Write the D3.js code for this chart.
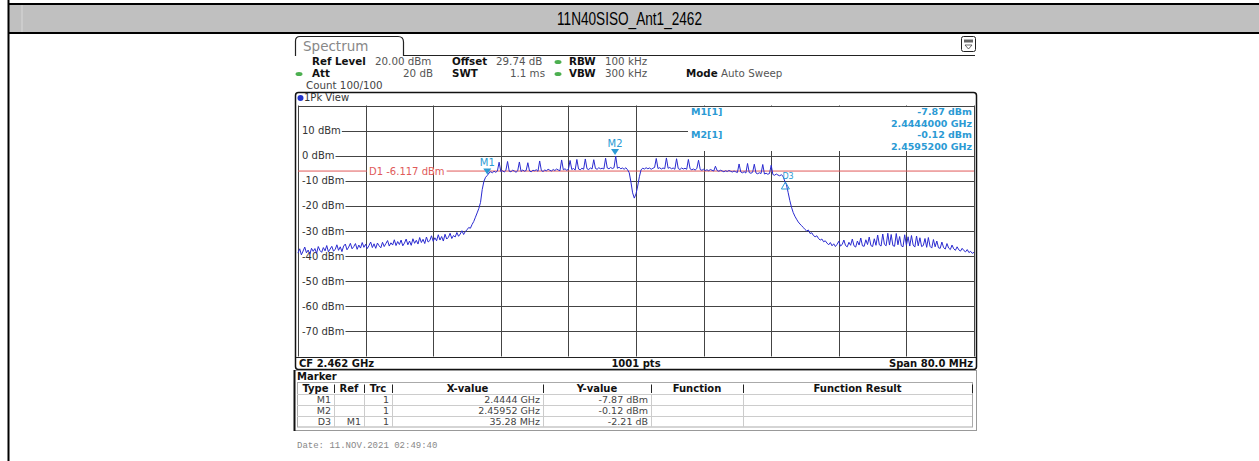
<!DOCTYPE html>
<html lang="en">

<head>
  <meta charset="UTF-8">
  <title>11N40SISO_Ant1_2462</title>
  <script src="https://d3js.org/d3.v7.min.js"></script>
  <style>
    body { margin: 0; background: #fff; }
    text { font-family: "DejaVu Sans", Verdana, sans-serif; }
  </style>
</head>

<body>
  <script>

    // trace: 401 points, 0.2 MHz apart, from 2.422 GHz
    var startGHz = 2.422;
    var stepGHz = 0.0002;
    var levels = [
      -38.8, -37.1, -39.5, -38.0, -36.4, -38.7, -37.6, -39.2, -36.9, -38.1,
      -37.0, -38.9, -36.2, -37.8, -38.5, -36.6, -37.9, -35.8, -38.3, -37.2,
      -36.1, -38.0, -37.4, -35.5, -37.7, -36.3, -38.2, -36.0, -35.2, -37.5,
      -36.4, -34.9, -37.1, -36.2, -35.0, -37.3, -35.6, -36.8, -34.6, -36.5,
      -35.3, -37.0, -35.8, -34.4, -36.6, -35.1, -36.9, -34.8, -35.9, -36.7,
      -34.5, -36.2, -35.0, -33.8, -36.0, -34.7, -35.6, -33.5, -35.8, -34.2,
      -35.4, -33.6, -35.9, -34.8, -33.2, -35.5, -34.0, -35.7, -33.1, -34.9,
      -33.7, -35.2, -32.6, -34.6, -33.3, -35.0, -32.4, -34.4, -33.8, -31.9,
      -34.1, -32.7, -33.9, -31.5, -33.6, -32.2, -34.0, -31.3, -33.2, -32.5,
      -30.9, -33.0, -31.8, -32.4, -30.6, -32.1, -31.2, -29.9, -31.4, -30.2,
      -29.5, -28.6, -28.9, -27.4, -26.2, -24.5, -22.8, -21.0, -18.6, -13.5,
      -10.2, -8.6, -7.87, -6.9, -6.4, -6.8, -6.2, -6.6, -6.1, -2.6,
      -6.3, -6.0, -6.5, -5.9, -2.3, -6.2, -6.4, -5.8, -6.1, -6.6,
      -6.0, -2.5, -6.3, -5.7, -6.2, -5.9, -2.8, -6.1, -6.4, -5.8,
      -6.0, -5.6, -6.2, -2.1, -5.9, -6.3, -5.7, -6.0, -5.4, -5.8,
      -6.1, -5.5, -5.9, -5.3, -5.7, -6.0, -1.7, -5.6, -5.2, -5.8,
      -5.4, -1.9, -5.5, -5.1, -5.7, -1.5, -5.3, -5.6, -5.0, -5.4,
      -1.3, -5.2, -5.5, -4.9, -5.3, -1.6, -5.1, -5.4, -4.8, -5.2,
      -5.0, -5.3, -1.0, -4.9, -5.2, -4.7, -5.1, -4.8, -0.12, -5.0,
      -4.6, -5.2, -4.9, -5.4, -4.8, -5.6, -6.8, -10.5, -14.8, -16.9,
      -15.2, -12.1, -8.4, -5.6, -5.0, -5.3, -4.8, -5.2, -4.9, -5.4,
      -5.0, -4.7, -1.1, -5.1, -4.8, -5.3, -4.9, -5.2, -0.9, -5.0,
      -4.7, -5.2, -4.9, -5.4, -1.2, -5.1, -5.5, -4.9, -5.3, -5.0,
      -5.4, -1.5, -5.2, -5.6, -5.3, -5.7, -5.1, -1.8, -5.5, -5.8,
      -5.4, -5.9, -5.6, -6.0, -5.5, -5.8, -6.1, -4.2, -5.9, -6.2,
      -5.8, -6.1, -6.4, -6.0, -6.3, -5.9, -6.2, -6.5, -6.1, -6.4,
      -6.7, -3.3, -6.5, -6.8, -6.4, -6.9, -3.1, -6.7, -7.0, -6.6,
      -3.4, -6.9, -7.2, -6.8, -7.1, -3.5, -7.3, -7.0, -7.4, -7.1,
      -3.8, -7.5, -7.8, -7.3, -7.7, -8.0, -7.6, -8.2, -10.08, -11.5,
      -14.6, -17.8, -20.5, -22.6, -24.1, -25.3, -26.4, -27.2, -27.9, -28.6,
      -29.4, -30.0, -29.6, -31.0, -30.7, -31.8, -32.3, -31.9, -33.0, -33.6,
      -33.2, -34.3, -33.9, -34.8, -35.5, -34.6, -35.9, -35.1, -36.2, -35.3,
      -34.1, -36.0, -35.4, -33.6, -35.8, -36.3, -34.5, -35.7, -33.2, -35.9,
      -36.4, -34.0, -35.6, -32.8, -35.9, -36.1, -33.5, -35.4, -32.4, -35.8,
      -36.2, -33.1, -35.7, -31.6, -35.5, -36.0, -31.2, -35.3, -35.9, -30.9,
      -35.6, -31.4, -35.8, -36.1, -31.0, -35.5, -32.2, -35.9, -36.3, -31.5,
      -35.7, -32.3, -36.0, -31.8, -35.6, -36.4, -32.0, -35.9, -32.7, -36.2,
      -35.8, -33.0, -36.5, -32.6, -36.1, -36.8, -33.4, -36.3, -34.0, -36.7,
      -36.9, -34.4, -36.6, -37.2, -35.0, -36.8, -37.4, -35.6, -37.1, -37.7,
      -36.3, -37.5, -38.0, -36.9, -37.8, -38.3, -37.4, -38.6, -38.1, -38.9,
      -38.5
    ];

    var yTicks = [20, 10, 0, -10, -20, -30, -40, -50, -60, -70, -80];
    var yLabels = ["10 dBm", "0 dBm", "-10 dBm", "-20 dBm", "-30 dBm", "-40 dBm", "-50 dBm", "-60 dBm", "-70 dBm"];
    var yLabelValues = [10, 0, -10, -20, -30, -40, -50, -60, -70];

    var displayLine = -6.117;

    var markerNames = ["M1", "M2", "D3"];
    var markerFreqs = [2.4444, 2.45952, 2.47968];
    var markerLevels = [-7.87, -0.12, -10.08];

    var tableHead = ["Type", "Ref", "Trc", "X-value", "Y-value", "Function", "Function Result"];
    var tableRows = [
      ["M1", "", "1", "2.4444 GHz", "-7.87 dBm", "", ""],
      ["M2", "", "1", "2.45952 GHz", "-0.12 dBm", "", ""],
      ["D3", "M1", "1", "35.28 MHz", "-2.21 dB", "", ""]
    ];

    var W = 1259, H = 461;
    var blue = "#2a2ad0";
    var cyan = "#2b9ad4";
    var red = "#e05a5a";

    var svg = d3.select("body").append("svg")
      .attr("width", W)
      .attr("height", H);

    // ---- page title band ----
    svg.append("rect").attr("x", 8).attr("y", 4).attr("width", W - 8).attr("height", 29)
      .attr("fill", "#c0c0c0");
    svg.append("line").attr("x1", 22).attr("x2", 22).attr("y1", 5).attr("y2", 32)
      .attr("stroke", "#d8d8d8");
    svg.append("line").attr("x1", 8).attr("x2", W).attr("y1", 4).attr("y2", 4)
      .attr("stroke", "#000").attr("stroke-width", 2);
    svg.append("line").attr("x1", 8).attr("x2", W).attr("y1", 33).attr("y2", 33)
      .attr("stroke", "#000").attr("stroke-width", 2);
    svg.append("line").attr("x1", 8.5).attr("x2", 8.5).attr("y1", 0).attr("y2", H)
      .attr("stroke", "#000").attr("stroke-width", 2);
    svg.append("text")
      .attr("x", 629.5).attr("y", 25)
      .attr("text-anchor", "middle")
      .attr("textLength", 145).attr("lengthAdjust", "spacingAndGlyphs")
      .style("font-family", "'Liberation Sans Narrow', 'Arial Narrow', 'Liberation Sans', sans-serif")
      .style("font-size", "18px")
      .text("11N40SISO_Ant1_2462");

    // ---- scales ----
    var x = d3.scaleLinear().domain([2.422, 2.502]).range([298, 974]);
    var y = d3.scaleLinear().domain([-80, 20]).range([356.5, 105.5]);

    function txt(g, xx, yy, s, bold, anchor, col) {
      return g.append("text").attr("x", xx).attr("y", yy)
        .attr("text-anchor", anchor || "start")
        .style("font-weight", bold ? "bold" : "normal")
        .style("fill", col || (bold ? "#111" : "#555"))
        .text(s);
    }

    // ---- instrument window ----
    var win = svg.append("g");
    // tab
    win.append("path")
      .attr("d", "M295.5,56 L295.5,41 Q295.5,36.5 300,36.5 L398,36.5 Q403.5,36.5 403.5,42 L403.5,55.5 L975,55.5")
      .attr("fill", "none").attr("stroke", "#222").attr("stroke-width", 1.2);
    win.append("text").attr("x", 303).attr("y", 51)
      .style("font-size", "13.5px").style("fill", "#888")
      .text("Spectrum");
    // icon at top right
    win.append("rect").attr("x", 961.5).attr("y", 36.5).attr("width", 14).attr("height", 15).attr("rx", 2)
      .attr("fill", "#fff").attr("stroke", "#222");
    win.append("rect").attr("x", 964).attr("y", 39.5).attr("width", 9).attr("height", 3)
      .attr("fill", "#666");
    win.append("path").attr("d", "M965,45 L972,45 L968.5,49 Z")
      .attr("fill", "none").attr("stroke", "#444").attr("stroke-width", 0.8);

    // settings lines
    var setting = win.append("g").style("font-size", "10.3px");
    txt(setting, 312, 65, "Ref Level", true);
    txt(setting, 375, 65, "20.00 dBm");
    txt(setting, 452, 65, "Offset", true);
    txt(setting, 496, 65, "29.74 dB");
    txt(setting, 569, 65, "RBW", true);
    txt(setting, 605, 65, "100 kHz");
    txt(setting, 312, 77, "Att", true);
    txt(setting, 433, 77, "20 dB", false, "end");
    txt(setting, 452, 77, "SWT", true);
    txt(setting, 545, 77, "1.1 ms", false, "end");
    txt(setting, 569, 77, "VBW", true);
    txt(setting, 605, 77, "300 kHz");
    txt(setting, 686, 77, "Mode", true);
    txt(setting, 721, 77, "Auto Sweep");
    txt(setting, 306, 89, "Count 100/100", false, "start", "#444");
    [[558, 62], [299, 74], [558, 74]].forEach(function (p) {
      win.append("ellipse").attr("cx", p[0]).attr("cy", p[1]).attr("rx", 3.5).attr("ry", 2)
        .attr("fill", "#4caf50");
    });

    // diagram frame
    win.append("rect").attr("x", 295.5).attr("y", 92.5).attr("width", 681).attr("height", 277).attr("rx", 3)
      .attr("fill", "#fff").attr("stroke", "#111").attr("stroke-width", 1.5);
    win.append("circle").attr("cx", 300.5).attr("cy", 98).attr("r", 3).attr("fill", "#2233cc");
    txt(win, 304, 101, "1Pk View", false, "start", "#333").style("font-size", "10px");

    // ---- grid ----
    var grid = svg.append("g").attr("stroke", "#444").attr("stroke-width", 1);
    grid.selectAll("line.h").data(yTicks).enter().append("line")
      .attr("x1", x(2.422)).attr("x2", x(2.502))
      .attr("y1", function (d) { return Math.round(y(d)) + 0.5; })
      .attr("y2", function (d) { return Math.round(y(d)) + 0.5; });
    grid.selectAll("line.v").data(d3.range(11)).enter().append("line")
      .attr("x1", function (d) { return Math.round(x(2.422 + d * 0.008)) + 0.5; })
      .attr("x2", function (d) { return Math.round(x(2.422 + d * 0.008)) + 0.5; })
      .attr("y1", y(20)).attr("y2", y(-80));

    // marker info box hides the upper right of the grid
    svg.append("rect").attr("x", 688).attr("y", 107).attr("width", 286).attr("height", 44)
      .attr("fill", "#fff");
    var info = svg.append("g").style("font-size", "9.5px");
    txt(info, 691, 115, "M1[1]", true, "start", cyan);
    txt(info, 972, 115, "-7.87 dBm", true, "end", cyan);
    txt(info, 972, 126.5, "2.4444000 GHz", true, "end", cyan);
    txt(info, 691, 138, "M2[1]", true, "start", cyan);
    txt(info, 972, 138, "-0.12 dBm", true, "end", cyan);
    txt(info, 972, 149.5, "2.4595200 GHz", true, "end", cyan);

    // y labels with white backing
    var lab = svg.append("g").style("font-size", "10px");
    yLabelValues.forEach(function (v, i) {
      var t = lab.append("text").attr("x", 302).attr("y", y(v) + 3.5)
        .style("fill", "#333").text(yLabels[i]);
      var bb = t.node().getBBox();
      lab.insert("rect", "text").attr("x", 299).attr("y", y(v) - 3)
        .attr("width", bb.x + bb.width - 299 + 1).attr("height", 6).attr("fill", "#fff");
    });

    // display line D1
    var dl = svg.append("g");
    dl.append("line").attr("x1", x(2.422)).attr("x2", x(2.502))
      .attr("y1", y(displayLine)).attr("y2", y(displayLine))
      .attr("stroke", red).attr("stroke-width", 1);
    var d1 = dl.append("text").attr("x", 369).attr("y", y(displayLine) + 3.5)
      .style("font-size", "10px").style("fill", red)
      .text("D1  " + displayLine.toFixed(3) + " dBm");
    var d1b = d1.node().getBBox();
    dl.insert("rect", "text").attr("x", d1b.x - 2).attr("y", y(displayLine) - 2)
      .attr("width", d1b.width + 4).attr("height", 4).attr("fill", "#fff");

    // ---- trace ----
    var line = d3.line()
      .x(function (d, i) { return x(startGHz + i * stepGHz); })
      .y(function (d) { return y(d); });
    svg.append("path").datum(levels)
      .attr("fill", "none").attr("stroke", blue).attr("stroke-width", 1)
      .attr("d", line);

    // ---- markers ----
    markerNames.forEach(function (m, i) {
      var mx = x(markerFreqs[i]), my = y(markerLevels[i]);
      if (m === "D3") {
        svg.append("path")
          .attr("d", "M" + mx + "," + (my + 1) + " l4,7 l-8,0 Z")
          .attr("fill", "none").attr("stroke", cyan).attr("stroke-width", 1);
        svg.append("text").attr("x", mx - 3).attr("y", my - 2)
          .style("font-size", "8px").style("fill", cyan).text("D3");
      } else {
        svg.append("path")
          .attr("d", "M" + mx + "," + (my - 1) + " l-4,-6 l8,0 Z")
          .attr("fill", cyan);
        svg.append("text").attr("x", mx).attr("y", my - 9)
          .attr("text-anchor", "middle")
          .style("font-size", "10px").style("fill", cyan).text(m);
      }
    });

    // ---- bottom bar ----
    svg.append("line").attr("x1", 296).attr("x2", 976).attr("y1", 357.5).attr("y2", 357.5)
      .attr("stroke", "#222");
    var bar = svg.append("g").style("font-size", "10px");
    txt(bar, 299, 367, "CF 2.462 GHz", true, "start", "#111");
    txt(bar, 636, 367, "1001 pts", true, "middle", "#111");
    txt(bar, 973, 367, "Span 80.0 MHz", true, "end", "#111");

    // ---- marker table ----
    var tbl = svg.append("g");
    tbl.append("rect").attr("x", 294.5).attr("y", 370.5).attr("width", 682).attr("height", 60)
      .attr("fill", "#fff").attr("stroke", "#999");
    tbl.append("line").attr("x1", 294.5).attr("x2", 294.5).attr("y1", 370).attr("y2", 431)
      .attr("stroke", "#111").attr("stroke-width", 2);
    txt(tbl, 297, 380, "Marker", true, "start", "#111").style("font-size", "10px");
    var colEdges = [297, 334, 364, 392, 543, 651, 743, 972];
    var rowY = [382.5, 394, 405, 416, 427];
    tbl.append("rect").attr("x", colEdges[0] + 0.5).attr("y", rowY[0]).attr("width", colEdges[7] - colEdges[0])
      .attr("height", rowY[4] - rowY[0]).attr("fill", "none").attr("stroke", "#aaa");
    rowY.slice(1, 4).forEach(function (ry) {
      tbl.append("line").attr("x1", colEdges[0]).attr("x2", colEdges[7]).attr("y1", ry + 0.5).attr("y2", ry + 0.5)
        .attr("stroke", "#ccc");
    });
    colEdges.slice(1, 7).forEach(function (cx) {
      tbl.append("line").attr("x1", cx + 0.5).attr("x2", cx + 0.5).attr("y1", rowY[1]).attr("y2", rowY[4])
        .attr("stroke", "#ccc");
      tbl.append("line").attr("x1", cx + 0.5).attr("x2", cx + 0.5).attr("y1", rowY[0] + 2).attr("y2", rowY[1] - 1)
        .attr("stroke", "#222");
    });
    tbl.append("line").attr("x1", colEdges[7] + 0.5).attr("x2", colEdges[7] + 0.5).attr("y1", rowY[0] + 2).attr("y2", rowY[1] - 1)
      .attr("stroke", "#222");
    tableHead.forEach(function (h, c) {
      txt(tbl, (colEdges[c] + colEdges[c + 1]) / 2, rowY[1] - 2.5, h, true, "middle", "#111").style("font-size", "10px");
    });
    tableRows.forEach(function (r, ri) {
      r.forEach(function (v, c) {
        if (!v) return;
        txt(tbl, colEdges[c + 1] - 3, rowY[ri + 2] - 2, v, false, "end", "#444").style("font-size", "9.5px");
      });
    });

    svg.append("text").attr("x", 297).attr("y", 448)
      .style("font-family", "'Liberation Mono', 'DejaVu Sans Mono', monospace")
      .style("font-size", "9px").style("fill", "#888")
      .text("Date: 11.NOV.2021  02:49:40");
  </script>
</body>

</html>
